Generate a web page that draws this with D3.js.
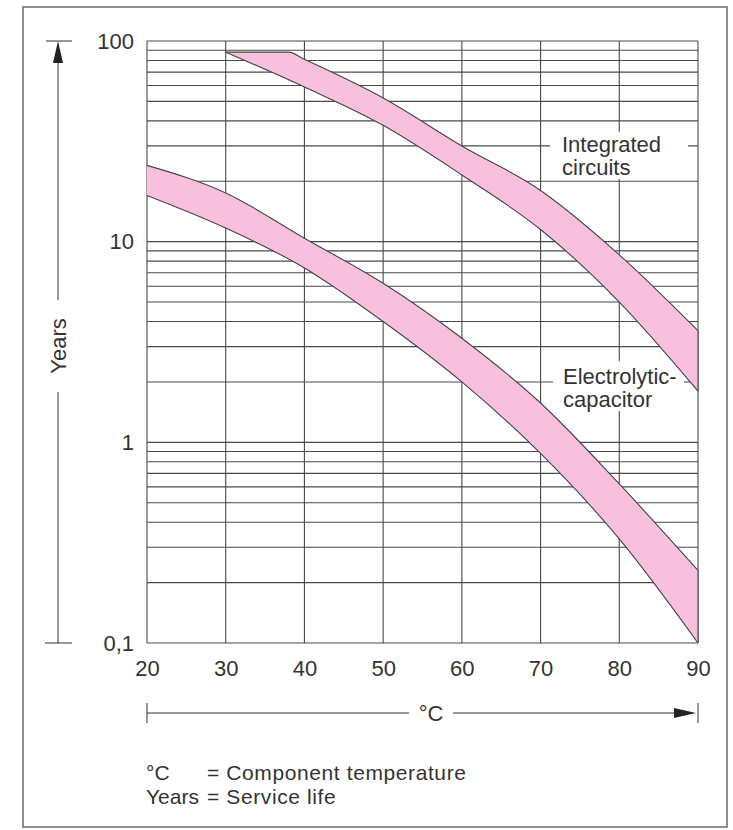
<!DOCTYPE html>
<html>
<head>
<meta charset="utf-8">
<script src="https://cdn.jsdelivr.net/npm/d3@7"></script>
<style>
  html, body { margin: 0; padding: 0; background: #fff; }
  svg { display: block; }
  text { font-family: "Liberation Sans", Arial, Helvetica, sans-serif; fill: #333; }
</style>
</head>
<body>
<svg id="chart" width="733" height="830"></svg>
<script>
// ---- data ----
const tempTicks = [20, 30, 40, 50, 60, 70, 80, 90];
const yTickValues = [0.1, 1, 10, 100];
const yTickLabels = ["0,1", "1", "10", "100"];

// Integrated circuits band (years)
const icUpperTemps = [30, 38, 40, 50, 60, 70, 80, 90];
const icUpper      = [88, 88, 81, 52, 30, 18, 8.6, 3.6];
const icLowerTemps = [30, 40, 50, 60, 70, 80, 90];
const icLower      = [88, 59, 38, 21.5, 11.5, 5.0, 1.8];

// Electrolytic capacitor band (years)
const capTemps = [20, 30, 40, 50, 60, 70, 80, 90];
const capUpper = [24, 17.5, 10.4, 6.2, 3.3, 1.57, 0.62, 0.23];
const capLower = [17, 11.7, 7.4, 4.0, 2.0, 0.88, 0.33, 0.1];

const labelIC = ["Integrated", "circuits"];
const labelCap = ["Electrolytic-", "capacitor"];
const yTitle = "Years";
const xTitle = "°C";
const legendRows = [["°C", "= Component temperature"], ["Years", "= Service life"]];

// ---- layout ----
const svg = d3.select("#chart");
const x = d3.scaleLinear().domain([20, 90]).range([147, 698]);
const y = d3.scaleLog().domain([0.1, 100]).range([643, 41]);
const FS = 22;
const gridColor = "#4a4a4a";
const pink = "#f8c0dd";

// outer frame
svg.append("rect").attr("x", 23).attr("y", 7).attr("width", 704).attr("height", 820)
  .attr("fill", "none").attr("stroke", "#6a6a6a").attr("stroke-width", 1.5);

// grid
const grid = svg.append("g");
grid.selectAll("line.h").data(y.ticks()).join("line")
  .attr("x1", x(20)).attr("x2", x(90))
  .attr("y1", d => y(d)).attr("y2", d => y(d))
  .attr("stroke", gridColor).attr("stroke-width", 1.1);
grid.selectAll("line.v").data(tempTicks).join("line")
  .attr("x1", d => x(d)).attr("x2", d => x(d))
  .attr("y1", y(100)).attr("y2", y(0.1))
  .attr("stroke", gridColor).attr("stroke-width", 1.1);

// white backgrounds behind in-plot labels
svg.append("rect").attr("x", 550).attr("y", 132).attr("width", 138).attr("height", 47).attr("fill", "#fff");
svg.append("rect").attr("x", 553).attr("y", 361).attr("width", 131).attr("height", 50).attr("fill", "#fff");

// bands
const line = d3.line().x(d => x(d[0])).y(d => y(d[1])).curve(d3.curveMonotoneX);
function band(tu, vu, tl, vl) {
  const up = tu.map((t, i) => [t, vu[i]]);
  const lo = tl.map((t, i) => [t, vl[i]]);
  const loRev = lo.slice().reverse();
  const path = line(up) + line(loRev).replace(/^M/, "L") + "Z";
  svg.append("path").attr("d", path).attr("fill", pink).attr("stroke", "none");
  svg.append("path").attr("d", line(up)).attr("fill", "none").attr("stroke", "#444").attr("stroke-width", 1.1);
  svg.append("path").attr("d", line(lo)).attr("fill", "none").attr("stroke", "#444").attr("stroke-width", 1.1);
  svg.append("line").attr("x1", x(90)).attr("x2", x(90))
    .attr("y1", y(vu[vu.length - 1])).attr("y2", y(vl[vl.length - 1]))
    .attr("stroke", gridColor).attr("stroke-width", 1.1);
}
band(icUpperTemps, icUpper, icLowerTemps, icLower);
band(capTemps, capUpper, capTemps, capLower);

// in-plot labels
function label(lines, x0, y0) {
  lines.forEach((t, i) => {
    svg.append("text").attr("x", x0).attr("y", y0 + i * 23)
      .attr("font-size", FS).text(t);
  });
}
label(labelIC, 562, 152);
label(labelCap, 563, 384);

// axes tick labels
const yAxis = d3.axisLeft(y).tickValues(yTickValues)
  .tickFormat((d, i) => yTickLabels[i]).tickSize(0).tickPadding(13);
const gy = svg.append("g").attr("transform", `translate(${x(20)},0)`).call(yAxis);
gy.select(".domain").remove();
gy.selectAll("text").attr("font-size", FS).attr("font-family", null).style("fill", "#333");

const xAxis = d3.axisBottom(x).tickValues(tempTicks).tickFormat(d3.format("d"))
  .tickSize(0).tickPadding(17);
const gx = svg.append("g").attr("transform", `translate(0,${y(0.1)})`).call(xAxis);
gx.select(".domain").remove();
gx.selectAll("text").attr("font-size", FS).attr("font-family", null).style("fill", "#333");

// y arrow
const ax = 58, axTop = y(100), axBot = y(0.1), yMid = 346;
const arrowC = "#333";
svg.append("line").attr("x1", ax).attr("x2", ax).attr("y1", axTop + 10).attr("y2", yMid - 46)
  .attr("stroke", arrowC).attr("stroke-width", 1);
svg.append("line").attr("x1", ax).attr("x2", ax).attr("y1", yMid + 46).attr("y2", axBot)
  .attr("stroke", arrowC).attr("stroke-width", 1);
svg.append("line").attr("x1", 46).attr("x2", 72).attr("y1", axTop).attr("y2", axTop)
  .attr("stroke", arrowC).attr("stroke-width", 1);
svg.append("line").attr("x1", 45).attr("x2", 72).attr("y1", axBot).attr("y2", axBot)
  .attr("stroke", arrowC).attr("stroke-width", 1);
svg.append("path").attr("d", `M${ax},${axTop} L${ax - 5},${axTop + 22} L${ax + 5},${axTop + 22} Z`)
  .attr("fill", "#222");
svg.append("text").attr("transform", `translate(${ax},${yMid}) rotate(-90)`)
  .attr("text-anchor", "middle").attr("dominant-baseline", "central")
  .attr("font-size", FS).text(yTitle);

// x arrow
const ay = 713, xL = x(20), xR = x(90), xMid = 431;
svg.append("line").attr("x1", xL).attr("x2", xMid - 22).attr("y1", ay).attr("y2", ay)
  .attr("stroke", arrowC).attr("stroke-width", 1);
svg.append("line").attr("x1", xMid + 22).attr("x2", xR - 10).attr("y1", ay).attr("y2", ay)
  .attr("stroke", arrowC).attr("stroke-width", 1);
svg.append("line").attr("x1", xL).attr("x2", xL).attr("y1", 703).attr("y2", 723)
  .attr("stroke", arrowC).attr("stroke-width", 1);
svg.append("line").attr("x1", xR).attr("x2", xR).attr("y1", 703).attr("y2", 723)
  .attr("stroke", arrowC).attr("stroke-width", 1);
svg.append("path").attr("d", `M${xR - 2},${ay} L${xR - 24},${ay - 5} L${xR - 24},${ay + 5} Z`)
  .attr("fill", "#222");
svg.append("text").attr("x", xMid).attr("y", ay).attr("text-anchor", "middle")
  .attr("dominant-baseline", "central").attr("font-size", FS).text(xTitle);

// legend
const LFS = 21;
legendRows.forEach((r, i) => {
  const yy = 780 + i * 24;
  svg.append("text").attr("x", 146).attr("y", yy).attr("font-size", LFS).text(r[0]);
  svg.append("text").attr("x", 207).attr("y", yy).attr("font-size", LFS)
    .attr("letter-spacing", 0.6).text(r[1]);
});
</script>
</body>
</html>
